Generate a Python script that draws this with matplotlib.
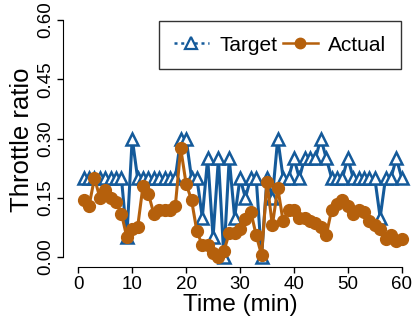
import numpy as np
import matplotlib
matplotlib.use('Agg')
import matplotlib.pyplot as plt
from matplotlib.lines import Line2D

plt.rcParams['font.family'] = ['Liberation Sans', 'DejaVu Sans']

# data
minutes = list(range(1, 61))
target = [0.20, 0.20, 0.20, 0.20, 0.20, 0.20, 0.20, 0.20, 0.05, 0.30,
          0.20, 0.20, 0.20, 0.20, 0.20, 0.20, 0.20, 0.20, 0.30, 0.30,
          0.20, 0.20, 0.10, 0.25, 0.05, 0.25, 0.00, 0.25, 0.10, 0.20,
          0.15, 0.20, 0.20, 0.00, 0.20, 0.15, 0.30, 0.20, 0.20, 0.25,
          0.20, 0.25, 0.25, 0.25, 0.30, 0.25, 0.20, 0.20, 0.20, 0.25,
          0.20, 0.20, 0.20, 0.20, 0.20, 0.10, 0.20, 0.20, 0.25, 0.20]
actual = [0.145, 0.130, 0.200, 0.150, 0.170, 0.150, 0.140, 0.110, 0.050, 0.070,
          0.075, 0.180, 0.160, 0.110, 0.120, 0.120, 0.120, 0.130, 0.275, 0.185,
          0.145, 0.065, 0.030, 0.030, 0.010, 0.000, 0.015, 0.060, 0.060, 0.070,
          0.095, 0.115, 0.055, 0.005, 0.190, 0.080, 0.175, 0.090, 0.120, 0.120,
          0.100, 0.100, 0.090, 0.085, 0.075, 0.055, 0.120, 0.135, 0.145, 0.130,
          0.110, 0.120, 0.115, 0.090, 0.080, 0.070, 0.045, 0.055, 0.040, 0.045]
xticks = [0, 10, 20, 30, 40, 50, 60]
yticks = [0.0, 0.15, 0.30, 0.45, 0.60]
ytick_labels = ['0.00', '0.15', '0.30', '0.45', '0.60']

blue = '#145a9a'
orange = '#b5600c'

fig = plt.figure(figsize=(4.15, 3.25), dpi=100)
ax = fig.add_axes([0.1757, 0.1788, 0.8053, 0.784])

ax.plot(minutes, target, color=blue, lw=2.2, marker='^', ms=9,
        mfc='white', mec=blue, mew=1.8, clip_on=False, zorder=3)
ax.plot(minutes, actual, color=orange, lw=2.2, marker='o', ms=8.5,
        mfc=orange, mec=orange, clip_on=False, zorder=4)

ax.set_xlim(-1, 61)
ax.set_ylim(-0.025, 0.62)

for s in ['top', 'right']:
    ax.spines[s].set_visible(False)
ax.spines['left'].set_position(('outward', 7))
ax.spines['left'].set_bounds(0, 0.6)
ax.spines['bottom'].set_bounds(0, 60)

ax.set_xticks(xticks)
ax.set_yticks(yticks)
ax.set_yticklabels(ytick_labels, rotation=90, va='center')
ax.tick_params(direction='out', length=4.5, width=1, labelsize=13.5, pad=2)

ax.set_xlabel('Time (min)', fontsize=17.5, labelpad=1)
ax.set_ylabel('Throttle ratio', fontsize=18.5, labelpad=2)

handles = [Line2D([], [], color=blue, lw=1.8, ls=(0, (1.2, 1.5)), marker='^', ms=8,
                  mfc='white', mec=blue, mew=1.6),
           Line2D([], [], color=orange, lw=1.8, marker='o', ms=7.5, mfc=orange, mec=orange)]
leg = ax.legend(handles, ['Target', 'Actual'], ncol=2, loc='upper right',
                bbox_to_anchor=(0.982, 0.965), borderaxespad=0, fontsize=15,
                handlelength=1.7, handletextpad=0.5, columnspacing=0.25,
                fancybox=False, framealpha=1, edgecolor='#333333',
                borderpad=0.7)
leg.get_frame().set_linewidth(1)

fig.savefig('out.png', dpi=100)
